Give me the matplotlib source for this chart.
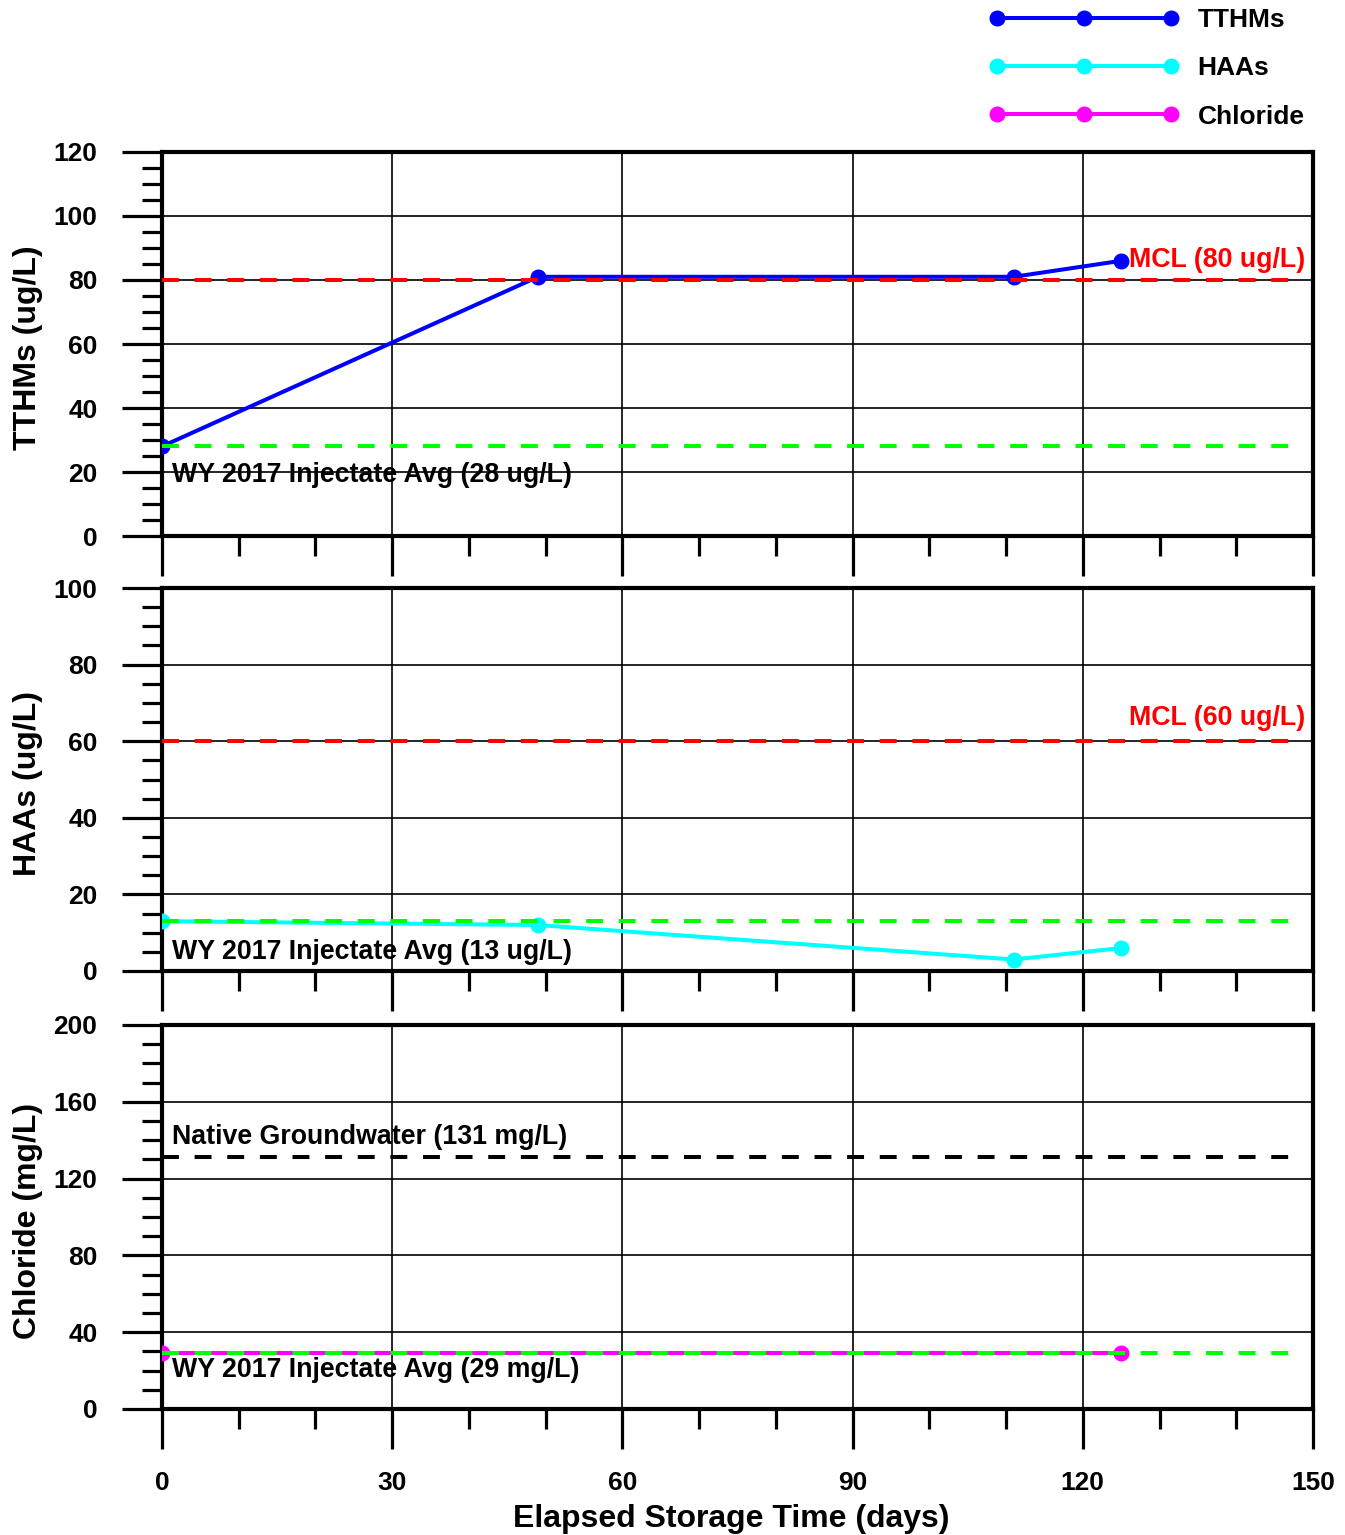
import matplotlib
matplotlib.use('Agg')
import matplotlib.pyplot as plt
from matplotlib.ticker import MultipleLocator

plt.rcParams['font.family'] = ['Liberation Sans', 'DejaVu Sans']
plt.rcParams['font.weight'] = 'bold'

# ---------------- data ----------------
days = [0, 49, 111, 125]
tthms = [28, 81, 81, 86]
haas = [13, 12, 3, 6]
cl_days = [0, 125]
chloride = [29, 29]

tthm_avg = 28
tthm_mcl = 80
haa_avg = 13
haa_mcl = 60
cl_avg = 29
cl_native = 131
ref_span = [0, 148]

x_ticks = [0, 30, 60, 90, 120, 150]

# ---------------- figure ----------------
W, H = 1345, 1535
fig = plt.figure(figsize=(W / 100, H / 100), dpi=100)

def frac(left, top, right, bottom):
    return [left / W, 1 - bottom / H, (right - left) / W, (bottom - top) / H]

ax1 = fig.add_axes(frac(162, 152, 1313, 536))
ax2 = fig.add_axes(frac(162, 588, 1313, 971))
ax3 = fig.add_axes(frac(162, 1025, 1313, 1409))

lw = 2.9
ms = 10.5
dash = (0, (4.2, 3.9))

def style(ax, ymax, ymaj, ymin, labels):
    ax.set_xlim(0, 150)
    ax.set_ylim(0, ymax)
    ax.set_xticks(x_ticks)
    ax.xaxis.set_minor_locator(MultipleLocator(10))
    ax.yaxis.set_major_locator(MultipleLocator(ymaj))
    ax.yaxis.set_minor_locator(MultipleLocator(ymin))
    ax.set_axisbelow(True)
    ax.grid(True, which='major', color='black', lw=1.2)
    for s in ax.spines.values():
        s.set_linewidth(3)
    ax.tick_params(axis='both', which='major', direction='out', length=28.5,
                   width=2.3, labelsize=19)
    ax.tick_params(axis='both', which='minor', direction='out', length=14.5,
                   width=2.3)
    ax.tick_params(axis='y', which='major', pad=18)
    ax.tick_params(axis='x', which='major', pad=16, labelbottom=labels)
    for t in ax.get_xticklabels() + ax.get_yticklabels():
        t.set_fontweight('bold')

style(ax1, 120, 20, 5, False)
style(ax2, 100, 20, 5, False)
style(ax3, 200, 40, 10, True)

# data lines
l1, = ax1.plot(days, tthms, color='#0000ff', lw=lw, marker='o', ms=ms, zorder=3, label='TTHMs')
l2, = ax2.plot(days, haas, color='#00ffff', lw=lw, marker='o', ms=ms, zorder=3, label='HAAs')
l3, = ax3.plot(cl_days, chloride, color='#ff00ff', lw=lw, marker='o', ms=ms, zorder=3, label='Chloride')

# reference lines
ax1.plot(ref_span, [tthm_mcl] * 2, color='#ff0000', lw=lw, ls=dash, zorder=4)
ax1.plot(ref_span, [tthm_avg] * 2, color='#00ff00', lw=lw, ls=dash, zorder=4)
ax2.plot(ref_span, [haa_mcl] * 2, color='#ff0000', lw=lw, ls=dash, zorder=4)
ax2.plot(ref_span, [haa_avg] * 2, color='#00ff00', lw=lw, ls=dash, zorder=4)
ax3.plot(ref_span, [cl_native] * 2, color='black', lw=lw, ls=dash, zorder=4)
ax3.plot(ref_span, [cl_avg] * 2, color='#00ff00', lw=lw, ls=dash, zorder=4)

# annotations
fs_txt = 19.3
ax1.text(126, 86.3, 'MCL (80 ug/L)', color='#ff0000', fontsize=fs_txt, fontweight='bold', va='center', ha='left', zorder=5)
ax1.text(1.3, 19.1, 'WY 2017 Injectate Avg (28 ug/L)', color='black', fontsize=fs_txt, fontweight='bold', va='center', ha='left', zorder=5)
ax2.text(126, 66.1, 'MCL (60 ug/L)', color='#ff0000', fontsize=fs_txt, fontweight='bold', va='center', ha='left', zorder=5)
ax2.text(1.3, 5.0, 'WY 2017 Injectate Avg (13 ug/L)', color='black', fontsize=fs_txt, fontweight='bold', va='center', ha='left', zorder=5)
ax3.text(1.3, 141.7, 'Native Groundwater (131 mg/L)', color='black', fontsize=fs_txt, fontweight='bold', va='center', ha='left', zorder=5)
ax3.text(1.3, 20.3, 'WY 2017 Injectate Avg (29 mg/L)', color='black', fontsize=fs_txt, fontweight='bold', va='center', ha='left', zorder=5)

# axis labels
fs_lab = 23
ax1.set_ylabel('TTHMs (ug/L)', fontsize=fs_lab, fontweight='bold')
ax2.set_ylabel('HAAs (ug/L)', fontsize=fs_lab, fontweight='bold')
ax3.set_ylabel('Chloride (mg/L)', fontsize=fs_lab, fontweight='bold')
for ax in (ax1, ax2, ax3):
    ax.yaxis.set_label_coords(-0.103, 0.49)
ax3.set_xlabel('Elapsed Storage Time (days)', fontsize=fs_lab, fontweight='bold')
ax3.xaxis.set_label_coords(0.495, -0.248)

# legend
fig.legend(handles=[l1, l2, l3], loc='upper left',
           bbox_to_anchor=(989 / W, 1 - 8 / H), frameon=False,
           numpoints=3, handlelength=7.2, handletextpad=0.7,
           labelspacing=0.92, borderpad=0, borderaxespad=0,
           prop={'size': 19, 'weight': 'bold'})

fig.savefig('out.png', dpi=100)
